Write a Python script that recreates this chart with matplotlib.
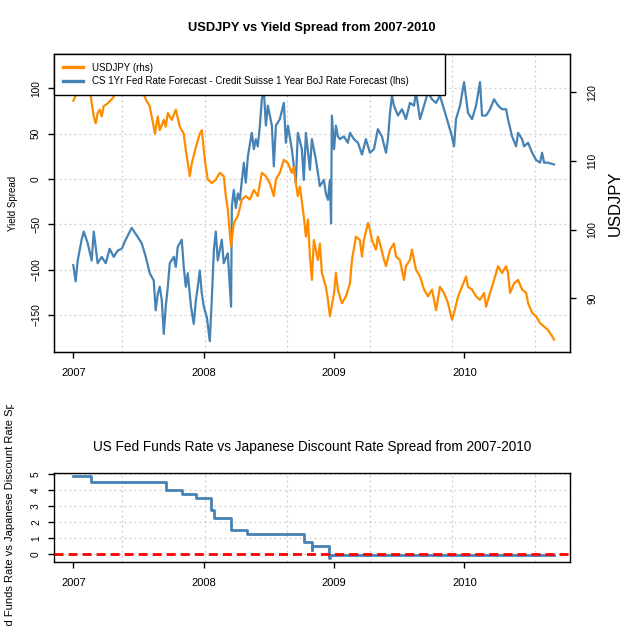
import numpy as np
import pandas as pd
import matplotlib
matplotlib.use('Agg')
import matplotlib.pyplot as plt
from matplotlib import font_manager
from matplotlib.transforms import Bbox, TransformedBbox

plt.rcParams['font.family'] = ['Liberation Sans', 'DejaVu Sans']

# 标题字体: 有窄体就用窄体
names = {f.name for f in font_manager.fontManager.ttflist}
title_font = 'Liberation Sans Narrow' if 'Liberation Sans Narrow' in names else 'Liberation Sans'

# 收益率差 (左轴)
spread_t = [2007.000, 2007.018, 2007.034, 2007.064, 2007.080, 2007.111, 2007.141, 2007.157, 2007.187,
            2007.218, 2007.249, 2007.279, 2007.310, 2007.341, 2007.372, 2007.402, 2007.448, 2007.494,
            2007.525, 2007.556, 2007.586, 2007.617, 2007.632, 2007.648, 2007.663, 2007.679, 2007.694,
            2007.709, 2007.725, 2007.740, 2007.771, 2007.786, 2007.801, 2007.832, 2007.847, 2007.863,
            2007.878, 2007.903, 2007.924, 2007.940, 2007.955, 2007.970, 2007.986, 2008.001, 2008.025,
            2008.047, 2008.062, 2008.078, 2008.093, 2008.108, 2008.139, 2008.154, 2008.185, 2008.210,
            2008.216, 2008.231, 2008.247, 2008.262, 2008.277, 2008.308, 2008.323, 2008.339, 2008.369,
            2008.385, 2008.400, 2008.415, 2008.431, 2008.446, 2008.461, 2008.477, 2008.492, 2008.523,
            2008.538, 2008.554, 2008.584, 2008.615, 2008.630, 2008.646, 2008.676, 2008.707, 2008.722,
            2008.753, 2008.768, 2008.784, 2008.815, 2008.830, 2008.861, 2008.891, 2008.922, 2008.937,
            2008.953, 2008.968, 2008.977, 2008.983, 2009.000, 2009.014, 2009.029, 2009.045, 2009.075,
            2009.106, 2009.122, 2009.152, 2009.183, 2009.214, 2009.244, 2009.275, 2009.306, 2009.336,
            2009.367, 2009.398, 2009.413, 2009.429, 2009.444, 2009.459, 2009.490, 2009.521, 2009.551,
            2009.582, 2009.613, 2009.628, 2009.659, 2009.690, 2009.720, 2009.751, 2009.782, 2009.812,
            2009.843, 2009.874, 2009.904, 2009.920, 2009.935, 2009.966, 2009.997, 2010.027, 2010.058,
            2010.089, 2010.119, 2010.135, 2010.166, 2010.196, 2010.227, 2010.258, 2010.288, 2010.319,
            2010.334, 2010.365, 2010.396, 2010.411, 2010.442, 2010.457, 2010.488, 2010.519, 2010.549,
            2010.580, 2010.595, 2010.611, 2010.641, 2010.687]
spread = [-95, -113, -90, -67, -58, -71, -90, -58, -93,
          -86, -93, -77, -86, -79, -77, -67, -54, -64,
          -71, -86, -104, -112, -145, -127, -119, -134, -171,
          -141, -119, -93, -86, -97, -75, -67, -97, -119,
          -104, -141, -160, -134, -119, -101, -127, -141, -153,
          -179, -134, -79, -58, -90, -67, -93, -82, -141,
          -30, -12, -32, -16, -23, 18, -4, 25, 51,
          33, 44, 36, 59, 88, 99, 59, 81, 59,
          14, 59, 66, 84, 40, 59, 33, -4, 51,
          33, -1, 51, 10, 44, 21, -8, -1, -16,
          -23, -1, -49, 70, 33, 59, 47, 44, 47,
          40, 51, 44, 40, 27, 44, 29, 33, 55,
          47, 29, 44, 73, 92, 81, 70, 77, 66,
          84, 81, 96, 66, 81, 96, 88, 84, 92,
          77, 62, 47, 36, 66, 81, 107, 73, 66,
          81, 107, 70, 70, 77, 88, 81, 77, 77,
          66, 47, 36, 51, 44, 36, 40, 29, 21,
          18, 29, 18, 18, 16]

# 美元兑日元 (右轴)
usd_t = [2007.000, 2007.018, 2007.034, 2007.064, 2007.095, 2007.126, 2007.141, 2007.157, 2007.172,
         2007.187, 2007.203, 2007.218, 2007.233, 2007.264, 2007.295, 2007.325, 2007.356, 2007.387,
         2007.418, 2007.448, 2007.479, 2007.494, 2007.510, 2007.525, 2007.540, 2007.556, 2007.586,
         2007.617, 2007.626, 2007.648, 2007.663, 2007.694, 2007.709, 2007.725, 2007.755, 2007.786,
         2007.817, 2007.847, 2007.863, 2007.894, 2007.909, 2007.940, 2007.970, 2007.986, 2008.001,
         2008.016, 2008.032, 2008.062, 2008.093, 2008.124, 2008.154, 2008.170, 2008.185, 2008.200,
         2008.210, 2008.231, 2008.262, 2008.293, 2008.323, 2008.354, 2008.385, 2008.415, 2008.446,
         2008.477, 2008.507, 2008.538, 2008.554, 2008.584, 2008.615, 2008.646, 2008.676, 2008.692,
         2008.707, 2008.722, 2008.738, 2008.768, 2008.784, 2008.799, 2008.815, 2008.830, 2008.845,
         2008.876, 2008.891, 2008.907, 2008.937, 2008.953, 2008.968, 2009.000, 2009.014, 2009.029,
         2009.060, 2009.091, 2009.122, 2009.137, 2009.168, 2009.198, 2009.214, 2009.229, 2009.260,
         2009.275, 2009.290, 2009.321, 2009.336, 2009.352, 2009.383, 2009.398, 2009.429, 2009.459,
         2009.475, 2009.505, 2009.536, 2009.551, 2009.582, 2009.597, 2009.628, 2009.659, 2009.690,
         2009.720, 2009.751, 2009.782, 2009.812, 2009.843, 2009.874, 2009.904, 2009.920, 2009.951,
         2009.981, 2010.012, 2010.027, 2010.058, 2010.089, 2010.119, 2010.150, 2010.166, 2010.196,
         2010.227, 2010.258, 2010.288, 2010.319, 2010.334, 2010.350, 2010.380, 2010.411, 2010.442,
         2010.473, 2010.488, 2010.519, 2010.549, 2010.580, 2010.611, 2010.641, 2010.672, 2010.687]
usdjpy = [118.8, 119.5, 120.5, 121.0, 121.5, 120.5, 118.5, 116.5, 115.5,
          117.0, 117.5, 116.5, 118.0, 118.4, 119.0, 119.8, 120.5, 121.0,
          121.8, 122.5, 123.5, 122.5, 122.0, 121.0, 119.8, 119.0, 118.0,
          115.0, 114.0, 116.5, 114.5, 116.0, 115.0, 117.0, 116.0, 117.5,
          115.0, 114.0, 111.6, 107.8, 109.7, 112.0, 114.0, 114.5, 111.6,
          109.2, 107.3, 106.8, 107.3, 108.3, 107.8, 104.9, 103.0, 99.5,
          97.6, 101.0, 102.0, 104.4, 104.9, 104.4, 105.8, 104.9, 108.3,
          107.8, 106.8, 104.9, 107.3, 108.3, 110.2, 109.7, 108.3, 109.2,
          106.8, 104.9, 106.3, 101.9, 99.0, 101.5, 96.1, 92.7, 98.5,
          95.6, 98.0, 93.7, 91.7, 89.8, 87.4, 90.8, 93.7, 91.3,
          89.3, 90.3, 92.2, 95.6, 99.0, 98.5, 96.1, 98.5, 101.0,
          100.0, 98.5, 97.1, 99.0, 98.0, 95.6, 94.7, 97.1, 98.0,
          96.1, 95.6, 92.7, 94.7, 95.6, 97.1, 94.2, 93.2, 91.3,
          90.3, 91.3, 88.3, 91.7, 90.8, 89.3, 86.9, 87.9, 90.3,
          91.7, 93.2, 91.7, 91.3, 90.3, 89.8, 90.8, 88.8, 90.8,
          92.7, 94.7, 93.7, 94.7, 93.7, 90.8, 92.2, 92.7, 91.3,
          90.8, 89.3, 87.9, 87.4, 86.4, 85.9, 85.4, 84.5, 84.0]

# 美联储利率 - 日本贴现率 (阶梯)
rate_dates = ['2007-01-01', '2007-02-21', '2007-09-18', '2007-10-31', '2007-12-11', '2008-01-22',
              '2008-01-30', '2008-03-18', '2008-04-30', '2008-10-08', '2008-10-29', '2008-10-31',
              '2008-12-16', '2008-12-19', '2010-09-08']
rate_spread = [4.85, 4.50, 4.00, 3.75, 3.50, 2.75, 2.25, 1.50, 1.25, 0.75, 0.25, 0.50, -0.25, -0.05, -0.05]

year_ticks = [2007, 2008, 2009, 2010]
grid_x = [2007.375, 2008.008, 2008.641, 2009.275, 2009.907, 2010.541]

d = pd.to_datetime(rate_dates)
rate_t = d.year + (d.dayofyear - 1) / 365.0

blue = '#4682B4'
orange = '#FF8C00'
xlim = (2006.852, 2010.809)

fig = plt.figure(figsize=(6.24, 6.27), dpi=100)


def style_axes(ax):
    for s in ax.spines.values():
        s.set_linewidth(1.0)
        s.set_color('black')
    ax.set_xlim(xlim)
    ax.set_xticks(year_ticks)
    ax.set_xticklabels([str(y) for y in year_ticks])
    ax.set_xticks(grid_x, minor=True)
    ax.tick_params(axis='x', which='minor', length=0)
    ax.tick_params(axis='x', which='major', length=4.3, width=1, labelsize=8, pad=7)
    ax.grid(True, which='minor', axis='x', color='#cccccc', linestyle=(0, (1.5, 2.5)), linewidth=0.9)
    ax.grid(True, which='major', axis='y', color='#cccccc', linestyle=(0, (1.5, 2.5)), linewidth=0.9)
    ax.set_axisbelow(True)


# 1. 上图: 收益率差 vs 美元日元
ax1 = fig.add_axes([0.0865, 0.4386, 0.8269, 0.4753])
style_axes(ax1)
l1, = ax1.plot(spread_t, spread, color=blue, linewidth=1.6)
ax1.set_ylim(-191, 138)
ax1.set_yticks([-150, -100, -50, 0, 50, 100])
ax1.tick_params(axis='y', length=4.3, width=1, labelsize=7.3, pad=5, labelrotation=90)
for lb in ax1.get_yticklabels():
    lb.set_va('center')

ax2 = ax1.twinx()
l2, = ax2.plot(usd_t, usdjpy, color=orange, linewidth=1.6)
ax2.set_ylim(82.2, 125.6)
ax2.set_yticks([90, 100, 110, 120])
ax2.tick_params(axis='y', length=4.3, width=1, labelsize=7.3, pad=8.5, labelrotation=90)
for lb in ax2.get_yticklabels():
    lb.set_va('center')
ax2.grid(False)

leg = ax2.legend([l2, l1], ['USDJPY (rhs)',
                            'CS 1Yr Fed Rate Forecast - Credit Suisse 1 Year BoJ Rate Forecast (lhs)'],
                 loc='upper left', bbox_to_anchor=(0, 1, 0.758, 0), mode='expand', borderaxespad=0,
                 fontsize=7, handlelength=2.1, handletextpad=0.9, labelspacing=0.35, borderpad=0.9,
                 fancybox=False, framealpha=1, edgecolor='black')
leg.get_frame().set_linewidth(1.0)
for ln in leg.get_lines():
    ln.set_linewidth(2.4)

fig.text(0.5, 0.9558, 'USDJPY vs Yield Spread from 2007-2010', ha='center', va='center',
         fontsize=9.3, fontweight='bold', family=[title_font, 'DejaVu Sans'])
fig.text(0.0208, 0.676, 'Yield Spread', rotation=90, ha='center', va='center', fontsize=7)
fig.text(0.9856, 0.676, 'USDJPY', rotation=90, ha='center', va='center', fontsize=12)

# 2. 下图: 联邦基金利率 vs 日本贴现率
ax3 = fig.add_axes([0.0865, 0.1032, 0.8269, 0.1419])
style_axes(ax3)
ax3.step(rate_t, rate_spread, where='post', color=blue, linewidth=2)
ax3.axhline(0, color='red', linewidth=2, linestyle=(0, (3.25, 1.8)), zorder=3)
ax3.set_ylim(-0.52, 5.04)
ax3.set_yticks([0, 1, 2, 3, 4, 5])
ax3.tick_params(axis='y', length=4.3, width=1, labelsize=7.3, pad=5, labelrotation=90)
for lb in ax3.get_yticklabels():
    lb.set_va('center')

fig.text(0.5, 0.2876, 'US Fed Funds Rate vs Japanese Discount Rate Spread from 2007-2010',
         ha='center', va='center', fontsize=9.8, family=[title_font, 'DejaVu Sans'])
# 纵轴标题超出图形区域, 按原图裁切
yl = fig.text(0.016, 0.1738, 'US Fed Funds Rate vs Japanese Discount Rate Spread', rotation=90,
              ha='center', va='center', fontsize=8)
yl.set_clip_box(TransformedBbox(Bbox([[0, 0], [1, 222 / 627]]), fig.transFigure))
yl.set_clip_on(True)

plt.savefig('out.png', dpi=100)
